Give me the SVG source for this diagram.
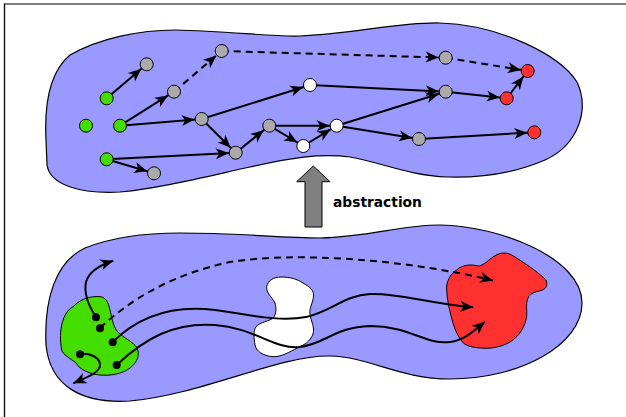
<svg xmlns="http://www.w3.org/2000/svg" width="626" height="417" viewBox="0 0 626 417">
<style>
.blob{fill:#9999ff;stroke:#000;stroke-width:1.2}
.e{stroke:#000;stroke-width:2;fill:none}
.d{stroke-dasharray:7,5}
.g{fill:#aaaaaa;stroke:#000;stroke-width:1}
.gr{fill:#44dd00;stroke:#000;stroke-width:1}
.r{fill:#ff3030;stroke:#000;stroke-width:1}
.w{fill:#ffffff;stroke:#000;stroke-width:1}
.dot{fill:#000}
</style>
<defs>
<marker id="ah" viewBox="-1 -7 26 14" markerWidth="26" markerHeight="14" refX="20" refY="0" orient="auto" markerUnits="userSpaceOnUse"><path d="M0,-5.5 L13,0 L0,5.5 L3.5,0 Z" fill="#000" stroke="none"/></marker>
<marker id="ah2" viewBox="-1 -7 26 14" markerWidth="26" markerHeight="14" refX="13" refY="0" orient="auto" markerUnits="userSpaceOnUse"><path d="M0,-5.5 L13,0 L0,5.5 L3.5,0 Z" fill="#000" stroke="none"/></marker>
</defs>
<rect width="626" height="417" fill="#fff"/>
<line x1="4" y1="4" x2="626" y2="4" stroke="#555" stroke-width="1.6"/>
<line x1="4.5" y1="3.5" x2="4.5" y2="417" stroke="#111" stroke-width="1.4"/>

<g id="top-region">
<path class="blob" d="M46,140 C44,100 52,70 70,55 C100,38 140,30 175,30 C230,31 270,37 300,36 C350,34 400,22 440,23 C500,25 560,55 577,82 C590,110 578,145 545,160 C515,173 480,178 447,177 C410,176 380,162 350,157 C320,153 290,158 250,167 C200,178 160,188 120,192 C80,194 50,185 47,165 Z"/>
</g>

<g id="bottom-region">
<path class="blob" d="M46,345 C44,300 55,262 85,248 C115,236 150,233 180,233 C240,233 280,238 320,238 C370,237 400,225 440,225 C500,226 582,258 582,303 C582,345 520,379 450,379 C400,379 370,357 330,356 C280,355 200,395 130,401 C80,404 50,385 46,345 Z"/>
</g>

<g id="green-set">
<path d="M61.7,350 C58,330 63,312 73,306.7 C80,300 86,297 97,296.5 C106,296 108,302 110,310 C112,318 113,326 117,331 C123,338 134,342 137,348 C140,354 138,362 130,368 C122,374 110,376 100,375 C90,374 80,370 76,363 C70,358 63,355 61.7,350 Z" fill="#44dd00" stroke="#000" stroke-width="1"/>
</g>

<g id="white-set">
<path d="M266.7,286.7 C268,280 274,277 281,277 C290,277 297,279 303,283 C310,287 314,290 313.5,296 C313,303 309,308 310,314 C311,322 315,327 313,334 C310,342 304,345 297,348 C290,352 281,357 273,356.7 C263,356 256,351 255,345 C254,338 253,331 256,326.7 C260,322 270,321 273.3,318 C277,313 276,307 275,303 C272,297 266,293 266.7,286.7 Z" fill="#fff" stroke="#000" stroke-width="1"/>
</g>

<g id="red-set">
<path d="M446.7,290 C446,282 450,274 456.7,270 C461,266 466,265 471,265 C476,265 479,267 482,265 C488,262 493,255 501,253.3 C508,252 512,255 517,258.3 C528,265 540,274 546,280 C548,286 546,289 541,290.5 C535,292 530,293 528,298 C525,305 528,313 526,320 C523,330 519,335 513,340 C505,346 495,348 486.7,348.3 C476,348 468,347 463.3,343 C458,337 455,330 453,323 C450,313 447,300 446.7,290 Z" fill="#ff3030" stroke="#000" stroke-width="1"/>
</g>

<g id="abstraction-arrow">
<path d="M313.3,166 L330,181.7 L322,181.7 L322,227 L305,227 L305,181.7 L296.7,181.7 Z" fill="#808080" stroke="#000" stroke-width="1"/>
<text x="333" y="207" font-family="DejaVu Sans, Verdana, sans-serif" font-weight="bold" font-size="13.8" fill="#000">abstraction</text>
</g>

<g id="connectors">
<line class="e" x1="106.7" y1="98.3" x2="146.7" y2="64.3" marker-end="url(#ah)"/>
<line class="e" x1="120" y1="125.7" x2="174" y2="91.7" marker-end="url(#ah)"/>
<line class="e d" x1="174" y1="91.7" x2="221.7" y2="51" marker-end="url(#ah)"/>
<line class="e d" x1="221.7" y1="51" x2="445.7" y2="57.7" marker-end="url(#ah)"/>
<line class="e d" x1="445.7" y1="57.7" x2="527.7" y2="71" marker-end="url(#ah)"/>
<line class="e" x1="120" y1="125.7" x2="201.7" y2="119" marker-end="url(#ah)"/>
<line class="e" x1="201.7" y1="119" x2="310" y2="85" marker-end="url(#ah)"/>
<line class="e" x1="310" y1="85" x2="445.7" y2="91.7" marker-end="url(#ah)"/>
<line class="e" x1="445.7" y1="91.7" x2="506.7" y2="98.3" marker-end="url(#ah)"/>
<line class="e" x1="506.7" y1="98.3" x2="527.7" y2="71" marker-end="url(#ah)"/>
<line class="e" x1="201.7" y1="119" x2="235.7" y2="152.7" marker-end="url(#ah)"/>
<line class="e" x1="106.7" y1="159.3" x2="235.7" y2="152.7" marker-end="url(#ah)"/>
<line class="e" x1="106.7" y1="159.3" x2="154" y2="173.3" marker-end="url(#ah)"/>
<line class="e" x1="235.7" y1="152.7" x2="269.3" y2="125.7" marker-end="url(#ah)"/>
<line class="e" x1="269.3" y1="125.7" x2="336.7" y2="125.7" marker-end="url(#ah)"/>
<line class="e" x1="269.3" y1="125.7" x2="303.3" y2="146" marker-end="url(#ah)"/>
<line class="e" x1="303.3" y1="146" x2="336.7" y2="125.7" marker-end="url(#ah)"/>
<line class="e" x1="336.7" y1="125.7" x2="445.7" y2="91.7" marker-end="url(#ah)"/>
<line class="e" x1="336.7" y1="125.7" x2="419" y2="139" marker-end="url(#ah)"/>
<line class="e" x1="419" y1="139" x2="534.3" y2="132.3" marker-end="url(#ah)"/>

<path class="e" d="M96,317 C88,305 84,292 86,282 C89,271 100,265 113.3,260.7" marker-end="url(#ah2)"/>
<path class="e d" d="M100,328 C130,300 170,275 230,262 C290,252 400,258 493,280.5" marker-end="url(#ah2)"/>
<path class="e" d="M112.7,342 C140,315 175,305 215,310 C250,315 280,322 306,317 C330,312 345,295 370,294 C400,293 430,304 473.3,307.3" marker-end="url(#ah2)"/>
<path class="e" d="M116.7,365 C145,338 175,322 215,325 C255,328 275,350 300,347 C325,344 335,327 370,326 C410,326 425,345 450,342 C465,340 475,330 485,321.7" marker-end="url(#ah2)"/>
<path class="e" d="M80,354 C90,353 99,357 100,364 C101,372 88,377 73.3,383.3" marker-end="url(#ah2)"/>
</g>

<g id="nodes">
<circle id="n1" class="gr" cx="106.7" cy="98.3" r="6.5"/>
<circle id="n2" class="g" cx="146.7" cy="64.3" r="6.5"/>
<circle id="n3" class="gr" cx="86" cy="125.7" r="6.5"/>
<circle id="n4" class="gr" cx="120" cy="125.7" r="6.5"/>
<circle id="n5" class="gr" cx="106.7" cy="159.3" r="6.5"/>
<circle id="n6" class="g" cx="154" cy="173.3" r="6.5"/>
<circle id="n7" class="g" cx="174" cy="91.7" r="6.5"/>
<circle id="n8" class="g" cx="221.7" cy="51" r="6.5"/>
<circle id="n9" class="g" cx="201.7" cy="119" r="6.5"/>
<circle id="n10" class="w" cx="310" cy="85" r="6.5"/>
<circle id="n11" class="g" cx="235.7" cy="152.7" r="6.5"/>
<circle id="n12" class="g" cx="269.3" cy="125.7" r="6.5"/>
<circle id="n13" class="w" cx="303.3" cy="146" r="6.5"/>
<circle id="n14" class="w" cx="336.7" cy="125.7" r="6.5"/>
<circle id="n15" class="g" cx="445.7" cy="57.7" r="6.5"/>
<circle id="n16" class="r" cx="527.7" cy="71" r="6.5"/>
<circle id="n17" class="g" cx="445.7" cy="91.7" r="6.5"/>
<circle id="n18" class="r" cx="506.7" cy="98.3" r="6.5"/>
<circle id="n19" class="g" cx="419" cy="139" r="6.5"/>
<circle id="n20" class="r" cx="534.3" cy="132.3" r="6.5"/>
<circle class="dot" cx="96" cy="317.3" r="4"/>
<circle class="dot" cx="100" cy="328.3" r="4"/>
<circle class="dot" cx="112.7" cy="342.3" r="4"/>
<circle class="dot" cx="80" cy="354.3" r="4"/>
<circle class="dot" cx="116.7" cy="365" r="4"/>
</g>
</svg>
